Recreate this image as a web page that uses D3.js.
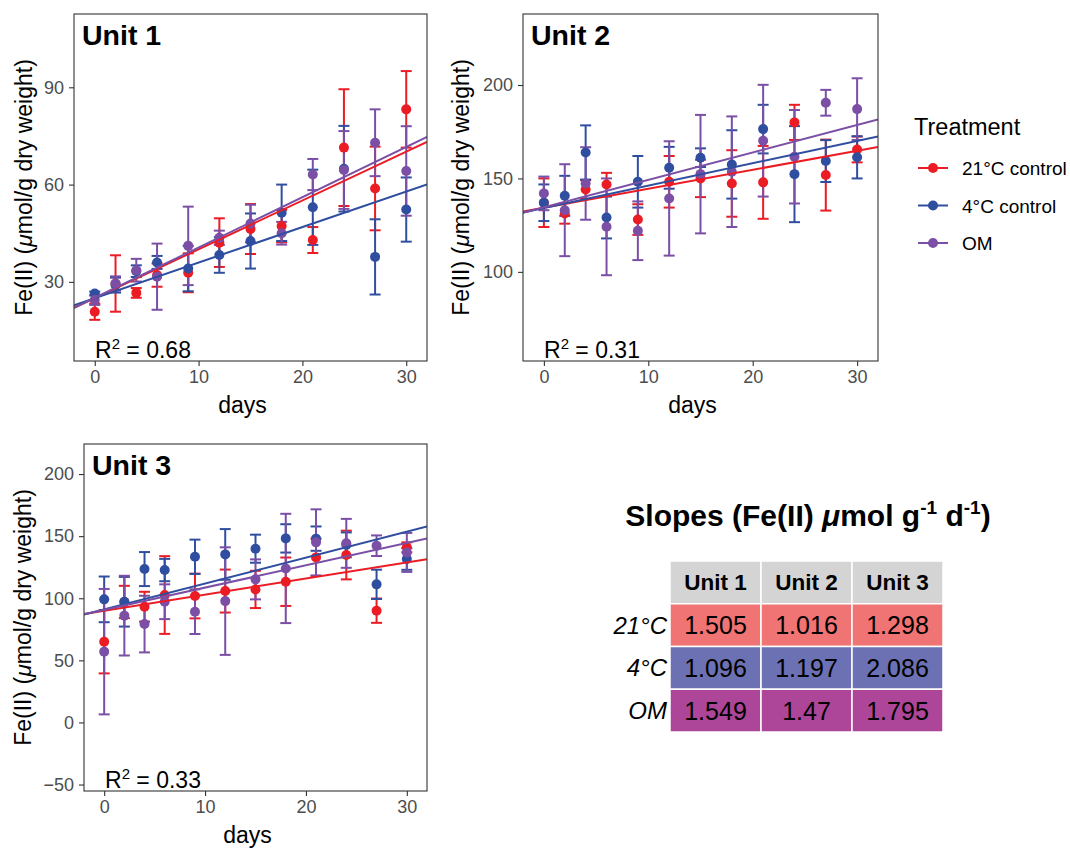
<!DOCTYPE html>
<html>
<head>
<meta charset="utf-8">
<script src="https://cdn.jsdelivr.net/npm/d3@7"></script>
<style>
  body { margin: 0; background: #fff; }
  svg { font-family: "Liberation Sans", Arial, sans-serif; }
</style>
</head>
<body>
<div id="vis"></div>
<script>
// sampling days
const days = [0, 2, 4, 6, 9, 12, 15, 18, 21, 24, 27, 30]
const treatments = ["21°C control", "4°C control", "OM"]
const colors = ["#ec1c24", "#2f4e9f", "#7a4fa5"]

// Unit 1 means and error (+/-)
const u1_21 = [20.8, 29.5, 26.6, 32.1, 32.8, 42.1, 46.3, 47.2, 42.9, 71.4, 58.8, 83.2]
const u1_21_err = [2.5, 8.7, 1.5, 3.6, 6, 7.5, 7.7, 5, 4, 18, 12.9, 11.8]
const u1_4 = [26.4, 29, 33.3, 36, 34.1, 38.3, 42.6, 51.3, 53, 64.9, 37.7, 52.3]
const u1_4_err = [0.6, 2.3, 1.8, 2, 7, 5.5, 8.5, 8.7, 11.6, 13.2, 11.6, 9.9]
const u1_om = [24.4, 29.5, 33.6, 31.6, 41.1, 43.6, 48, 45, 63.1, 64.5, 72.9, 64.2]
const u1_om_err = [1.5, 2.2, 3.5, 10.2, 12.1, 2.2, 5.8, 3.5, 4.8, 12, 10.3, 13.8]

// Unit 2
const u2_21 = [137, 131.3, 144.1, 146.8, 128, 148.2, 150, 147.3, 147.9, 180, 151.8, 165.5]
const u2_21_err = [13, 5.5, 5, 6.2, 8.2, 13.8, 10, 17.8, 19.5, 9.4, 19, 6.9]
const u2_4 = [137, 140.7, 163.9, 129.1, 148.2, 155.7, 161.1, 157.5, 176.4, 152.3, 159.3, 161.3]
const u2_4_err = [9.8, 10.7, 14.5, 11.2, 13.8, 11.2, 5, 18.3, 13, 25.7, 11.2, 11.3]
const u2_om = [142, 133, 147.3, 124.1, 122, 139.3, 152.3, 153.6, 170.2, 161.6, 190.5, 187.1]
const u2_om_err = [9, 24.6, 19.4, 25.9, 15.7, 30.6, 31.7, 29.6, 29.9, 25, 6.9, 16.5]

// Unit 3
const u3_21 = [65, 97, 93.2, 102.6, 101.8, 105.8, 107.1, 113.3, 132.9, 134.8, 90, 141]
const u3_21_err = [25.5, 13, 12, 31.3, 18, 17.3, 15, 19.5, 15, 19.6, 9.8, 4]
const u3_4 = [99.1, 97.2, 123.5, 122.7, 133.4, 135.3, 139.9, 148.2, 148, 143, 111.2, 131.6]
const u3_4_err = [18.4, 20, 13.7, 9, 13.8, 20.4, 11.3, 11.4, 9.8, 10, 11.8, 8.7]
const u3_om = [57, 86, 79.2, 97.2, 89.2, 97.7, 115.2, 124, 145, 144.2, 142.3, 136.9]
const u3_om_err = [50.5, 32.1, 22.8, 14, 18, 43.3, 16.1, 44, 26.6, 19.7, 8.3, 15.7]

// slopes (table) and fitted intercepts per unit, order 21°C, 4°C, OM
const slopes1 = [1.505, 1.096, 1.549]
const slopes2 = [1.016, 1.197, 1.47]
const slopes3 = [1.298, 2.086, 1.795]
const intercepts1 = [25.0, 25.0, 25.1]
const intercepts2 = [134.3, 134.2, 134.5]
const intercepts3 = [89.9, 91.0, 90.6]
const r2 = ["0.68", "0.31", "0.33"]

// y ticks per unit
const yTicks1 = [30, 60, 90]
const yTicks2 = [100, 150, 200]
const yTicks3 = [-50, 0, 50, 100, 150, 200]

// table
const tableCols = ["Unit 1", "Unit 2", "Unit 3"]
const tableRows = ["21°C", "4°C", "OM"]
const tableFill = ["#f07474", "#6c71b4", "#ad4698"]

const svg = d3.select("#vis")
    .append("svg")
    .attr("width", 1070)
    .attr("height", 848)

const panels = [
  {title: "Unit 1", left: 74, top: 14, right: 427, bottom: 361, yDom: [5.6, 112.6], ticks: yTicks1, titleX: 32,
   series: [[u1_21, u1_21_err], [u1_4, u1_4_err], [u1_om, u1_om_err]], slopes: slopes1, ints: intercepts1, r2: r2[0]},
  {title: "Unit 2", left: 523, top: 14, right: 878, bottom: 361, yDom: [52.3, 238], ticks: yTicks2, titleX: 469,
   series: [[u2_21, u2_21_err], [u2_4, u2_4_err], [u2_om, u2_om_err]], slopes: slopes2, ints: intercepts2, r2: r2[1]},
  {title: "Unit 3", left: 84, top: 444, right: 427, bottom: 791, yDom: [-55.2, 224.2], ticks: yTicks3, titleX: 31,
   series: [[u3_21, u3_21_err], [u3_4, u3_4_err], [u3_om, u3_om_err]], slopes: slopes3, ints: intercepts3, r2: r2[2]}
]

panels.forEach(function(p, pi){
    let x = d3.scaleLinear().domain([-2, 32]).range([p.left, p.right])
    let y = d3.scaleLinear().domain(p.yDom).range([p.bottom, p.top])
    let g = svg.append("g")

    let clipId = "clip" + pi
    g.append("clipPath").attr("id", clipId)
      .append("rect")
      .attr("x", p.left).attr("y", p.top)
      .attr("width", p.right - p.left).attr("height", p.bottom - p.top)

    // axes
    let xAxis = g.append("g")
        .attr("transform", "translate(0," + p.bottom + ")")
        .call(d3.axisBottom(x).tickValues([0, 10, 20, 30]).tickSize(5).tickPadding(4))
    let yAxis = g.append("g")
        .attr("transform", "translate(" + p.left + ",0)")
        .call(d3.axisLeft(y).tickValues(p.ticks).tickSize(5).tickPadding(5))
    ;[xAxis, yAxis].forEach(a => {
        a.select(".domain").remove()
        a.selectAll("line").attr("stroke", "#333").attr("stroke-width", 1.1)
        a.selectAll("text").attr("fill", "#4d4d4d").style("font-size", "18px")
          .style("font-family", "Liberation Sans, Arial, sans-serif")
    })

    let plot = g.append("g").attr("clip-path", "url(#" + clipId + ")")

    p.series.forEach(function(s, si){
        let vals = s[0], errs = s[1]
        let pts = days.map((d, i) => ({d: d, v: vals[i], e: errs[i]}))
        let eg = plot.append("g").attr("stroke", colors[si]).attr("stroke-width", 2)
        eg.selectAll(".v").data(pts).enter().append("line")
          .attr("x1", d => x(d.d)).attr("x2", d => x(d.d))
          .attr("y1", d => y(d.v - d.e)).attr("y2", d => y(d.v + d.e))
        eg.selectAll(".t").data(pts).enter().append("line")
          .attr("x1", d => x(d.d) - 5.5).attr("x2", d => x(d.d) + 5.5)
          .attr("y1", d => y(d.v + d.e)).attr("y2", d => y(d.v + d.e))
        eg.selectAll(".b").data(pts).enter().append("line")
          .attr("x1", d => x(d.d) - 5.5).attr("x2", d => x(d.d) + 5.5)
          .attr("y1", d => y(d.v - d.e)).attr("y2", d => y(d.v - d.e))
    })
    p.series.forEach(function(s, si){
        plot.append("g").selectAll("circle")
          .data(days.map((d, i) => ({d: d, v: s[0][i]})))
          .enter().append("circle")
          .attr("cx", d => x(d.d)).attr("cy", d => y(d.v))
          .attr("r", 5).attr("fill", colors[si])
    })
    p.slopes.forEach(function(b, si){
        let a = p.ints[si]
        plot.append("line")
          .attr("x1", x(-2)).attr("x2", x(32))
          .attr("y1", y(a + b * -2)).attr("y2", y(a + b * 32))
          .attr("stroke", colors[si]).attr("stroke-width", 2)
    })

    g.append("rect")
      .attr("x", p.left).attr("y", p.top)
      .attr("width", p.right - p.left).attr("height", p.bottom - p.top)
      .attr("fill", "none").attr("stroke", "#333").attr("stroke-width", 1.1)

    g.append("text").attr("x", p.left + 8).attr("y", p.top + 31)
      .style("font-size", "28.5px").style("font-weight", "bold").text(p.title)

    let r = g.append("text").attr("x", p.left + 21).attr("y", p.bottom - 3).style("font-size", "23px")
    r.append("tspan").text("R")
    r.append("tspan").attr("dy", -9).style("font-size", "15px").text("2")
    r.append("tspan").attr("dy", 9).text(" = " + p.r2)

    g.append("text").attr("x", (p.left + p.right) / 2 - 8).attr("y", p.bottom + 52)
      .attr("text-anchor", "middle").style("font-size", "23px").text("days")

    let yt = g.append("text")
      .attr("transform", "translate(" + p.titleX + "," + ((p.top + p.bottom) / 2) + ") rotate(-90)")
      .attr("text-anchor", "middle").style("font-size", "23px")
    yt.append("tspan").text("Fe(II) (")
    yt.append("tspan").style("font-style", "italic").text("μ")
    yt.append("tspan").text("mol/g dry weight)")
})

// legend
let leg = svg.append("g")
leg.append("text").attr("x", 914).attr("y", 135).style("font-size", "23.5px").text("Treatment")
treatments.forEach(function(t, i){
    let cy = 168 + i * 37.5
    leg.append("line").attr("x1", 918).attr("x2", 948).attr("y1", cy).attr("y2", cy)
      .attr("stroke", colors[i]).attr("stroke-width", 2)
    leg.append("circle").attr("cx", 933).attr("cy", cy).attr("r", 5).attr("fill", colors[i])
    leg.append("text").attr("x", 962).attr("y", cy + 7).style("font-size", "19px").text(t)
})

// slopes table
let tb = svg.append("g")
let tt = tb.append("text").attr("x", 808).attr("y", 526).attr("text-anchor", "middle")
  .style("font-size", "30px").style("font-weight", "bold")
tt.append("tspan").text("Slopes (Fe(II) ")
tt.append("tspan").style("font-style", "italic").text("μ")
tt.append("tspan").text("mol g")
tt.append("tspan").attr("dy", -12).style("font-size", "19px").text("-1")
tt.append("tspan").attr("dy", 12).text(" d")
tt.append("tspan").attr("dy", -12).style("font-size", "19px").text("-1")
tt.append("tspan").attr("dy", 12).text(")")

const allSlopes = [slopes1, slopes2, slopes3]
let cx = d3.scaleBand().domain(tableCols).range([670, 943])
let ry = d3.scaleBand().domain(["head"].concat(tableRows)).range([561, 732])

tableCols.forEach(function(c){
    tb.append("rect").attr("x", cx(c)).attr("y", ry("head"))
      .attr("width", cx.bandwidth()).attr("height", ry.bandwidth())
      .attr("fill", "#d4d4d4").attr("stroke", "#fff").attr("stroke-width", 1.5)
    tb.append("text").attr("x", cx(c) + cx.bandwidth() / 2).attr("y", ry("head") + ry.bandwidth() / 2 + 8)
      .attr("text-anchor", "middle").style("font-size", "22.5px").style("font-weight", "bold").text(c)
})
tableRows.forEach(function(rw, ri){
    tb.append("text").attr("x", 667).attr("y", ry(rw) + ry.bandwidth() / 2 + 8.5)
      .attr("text-anchor", "end").style("font-size", "24px").style("font-style", "italic").text(rw)
    tableCols.forEach(function(c, ci){
        tb.append("rect").attr("x", cx(c)).attr("y", ry(rw))
          .attr("width", cx.bandwidth()).attr("height", ry.bandwidth())
          .attr("fill", tableFill[ri]).attr("stroke", "#fff").attr("stroke-width", 1.5)
        tb.append("text").attr("x", cx(c) + cx.bandwidth() / 2).attr("y", ry(rw) + ry.bandwidth() / 2 + 9)
          .attr("text-anchor", "middle").style("font-size", "25px").text(allSlopes[ci][ri])
    })
})
</script>
</body>
</html>
